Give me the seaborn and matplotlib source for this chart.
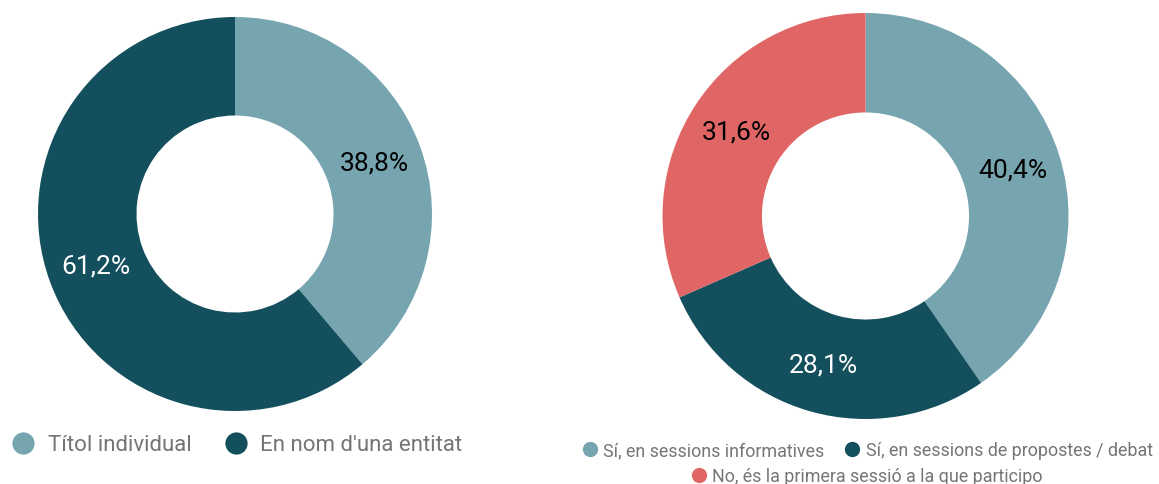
import matplotlib
matplotlib.use("Agg")
import matplotlib.pyplot as plt
from matplotlib.lines import Line2D
import seaborn as sns

# dades
etiquetes_1 = ["Títol individual", "En nom d'una entitat"]
valors_1 = [38.8, 61.2]

etiquetes_2 = ["Sí, en sessions informatives", "Sí, en sessions de propostes / debat",
               "No, és la primera sessió a la que participo"]
valors_2 = [40.4, 28.1, 31.6]

colors = ["#76a5af", "#134f5c", "#e06666"]
colors_text = ["#000000", "#ffffff", "#000000"]

sns.set_theme(style="white")
plt.rcParams['font.family'] = ['Roboto', 'DejaVu Sans']

W, H = 1159, 485
fig = plt.figure(figsize=(W / 100, H / 100), dpi=100)


def donut(cx, cy, r, valors, forat):
    # cx, cy en píxels des de dalt a l'esquerra
    ax = fig.add_axes([(cx - r) / W, (H - cy - r) / H, 2 * r / W, 2 * r / H])
    n = len(valors)
    wedges, texts, autotexts = ax.pie(
        valors, colors=colors[:n], startangle=90, counterclock=False,
        wedgeprops=dict(width=1 - forat, edgecolor="none"),
        autopct=lambda p: f"{p:.1f}".replace(".", ","), pctdistance=0.5 + forat / 2 + 0.005,
        textprops=dict(fontsize=19))
    for t, v, c in zip(autotexts, valors, colors_text):
        t.set_text(f"{v:.1f}%".replace(".", ","))
        t.set_color(c)
    ax.set_xlim(-1, 1)
    ax.set_ylim(-1, 1)
    ax.axis("off")
    return ax


donut(235, 215, 197, valors_1, 0.5)
donut(865.5, 217, 203, valors_2, 0.51)


def handles(etiq, idx, ms):
    return [Line2D([], [], marker="o", linestyle="none", markersize=ms,
                   markerfacecolor=colors[i], markeredgecolor="none", label=etiq[i])
            for i in idx]


leg1 = fig.legend(handles=handles(etiquetes_1, [0, 1], 16), loc="center",
                  bbox_to_anchor=(236 / W, 1 - 446 / H), ncol=2, frameon=False,
                  fontsize=16, handletextpad=0.5, columnspacing=1.4, handlelength=1.2,
                  labelcolor="#757575")
leg2 = fig.legend(handles=handles(etiquetes_2, [0, 1], 11), loc="center",
                  bbox_to_anchor=(867 / W, 1 - 451 / H), ncol=2, frameon=False,
                  fontsize=12.9, handletextpad=0.25, columnspacing=1.05, handlelength=1.0,
                  labelcolor="#757575")
leg3 = fig.legend(handles=handles(etiquetes_2, [2], 11), loc="center",
                  bbox_to_anchor=(866 / W, 1 - 477 / H), ncol=1, frameon=False,
                  fontsize=12.9, handletextpad=0.25, handlelength=1.0,
                  labelcolor="#757575")

fig.savefig("out.png", dpi=100, facecolor="white")
